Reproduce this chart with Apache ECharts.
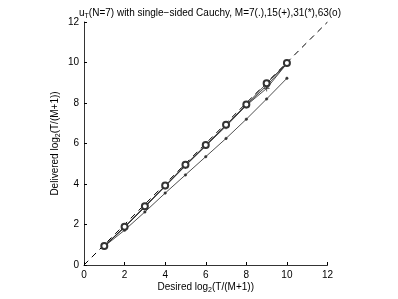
<!DOCTYPE html>
<html><head><meta charset="utf-8">
<script src="https://cdn.jsdelivr.net/npm/echarts@6/dist/echarts.min.js"></script>
<style>html,body{margin:0;padding:0;background:#fff}#c{width:398px;height:299px}</style>
</head><body><div id="c"></div>
<script>
const desired = [1,2,3,4,5,6,7,8,9,10];
const m7  = [0.92,1.72,2.62,3.55,4.45,5.35,6.25,7.2,8.2,9.22];
const m15 = [0.93,1.86,2.86,3.88,4.9,5.88,6.85,7.88,8.72,9.95];
const m31 = [0.93,1.87,2.88,3.9,4.92,5.9,6.9,7.9,8.85,9.95];
const m63 = [0.94,1.89,2.9,3.92,4.95,5.92,6.92,7.92,8.97,9.97];
const diag = [[0,0],[12,12]];

const pair = a => desired.map((x,i)=>[x,a[i]]);
const F = 'Liberation Sans, Arial, sans-serif';
const plusSym = 'path://M0,5L10,5M5,0L5,10';
const starSym = 'path://M0,5L10,5M5,0L5,10M1.5,1.5L8.5,8.5M1.5,8.5L8.5,1.5';
function ser(data, symbol, size, bw){
  return {type:'line', data: pair(data), symbol, symbolSize:size, showSymbol:true,
    lineStyle:{color:'#222', width:0.8},
    itemStyle:{color:'#333', borderColor:'#333', borderWidth:bw},
    animation:false, z:3};
}
const chart = echarts.init(document.getElementById('c'));
chart.setOption({
  animation:false,
  title:{text:'u{s|T}(N=7) with single\u2212sided Cauchy, M=7(.),15(+),31(*),63(o)', left:205, textAlign:'center', top:2,
    textStyle:{fontFamily:F, fontSize:10, fontWeight:'normal', color:'#000',
      rich:{s:{fontSize:7, verticalAlign:'bottom', padding:[6,0,0,0], fontFamily:F}}}},
  grid:{left:84, right:70.5, top:22, bottom:34, outerBoundsMode:'none', containLabel:false},
  xAxis:{type:'value', min:0, max:12, interval:2,
    axisLine:{show:true, lineStyle:{color:'#000', width:0.8}},
    axisTick:{inside:true, length:3, lineStyle:{color:'#000'}},
    axisLabel:{fontFamily:F, fontSize:10, color:'#000', margin:5},
    splitLine:{show:false},
    name:'Desired log{s|2}(T/(M+1))', nameLocation:'middle', nameGap:16, nameMoveOverlap:false,
    nameTextStyle:{fontFamily:F, fontSize:10, color:'#000', rich:{s:{fontSize:7, padding:[6,0,0,0], fontFamily:F}}}},
  yAxis:{type:'value', min:0, max:12, interval:2,
    axisLine:{show:true, lineStyle:{color:'#000', width:0.8}},
    axisTick:{inside:true, length:3, lineStyle:{color:'#000'}},
    axisLabel:{fontFamily:F, fontSize:10, color:'#000', margin:5},
    splitLine:{show:false},
    name:'Delivered log{s|2}(T/(M+1))', nameLocation:'middle', nameGap:22, nameMoveOverlap:false,
    nameTextStyle:{fontFamily:F, fontSize:10, color:'#000', rich:{s:{fontSize:7, padding:[6,0,0,0], fontFamily:F}}}},
  series:[
    {type:'line', data:diag, symbol:'none', lineStyle:{color:'#000', width:1, type:[6,5]}, animation:false, z:2},
    ser(m7,'circle',2.5,0.5),
    ser(m15,plusSym,6,0.8),
    ser(m31,starSym,6,0.8),
    ser(m63,'emptyCircle',6,0.8)
  ]
});
</script></body></html>
